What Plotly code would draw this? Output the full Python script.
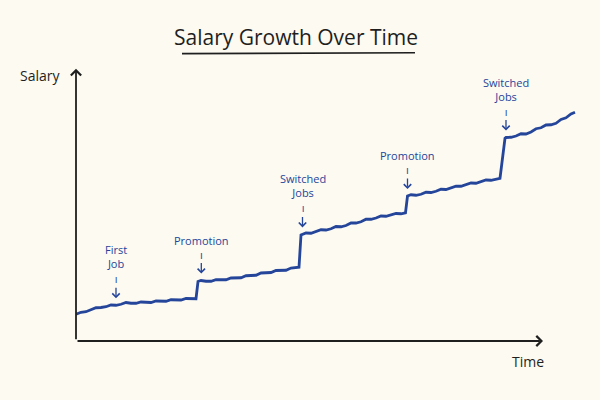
import numpy as np
import plotly.graph_objects as go

# ---- data ----
time_vals = [0, 1, 2, 3, 4, 5, 6, 7, 8, 9, 10, 11, 12, 13, 14, 15, 16, 17, 18, 19, 20, 21, 22, 23, 24,
             24.4, 25, 26, 27, 28, 29, 30, 31, 32, 33, 34, 35, 36, 37, 38, 39, 40, 41, 42, 43, 44, 44.6,
             45.0, 46, 47, 48, 49, 50, 51, 52, 53, 54, 55, 56, 57, 58, 59, 60, 61, 62, 63, 64, 65, 65.9,
             66.3, 67, 68, 69, 70, 71, 72, 73, 74, 75, 76, 77, 78, 79, 80, 81, 82, 83, 84, 84.8,
             85.8, 86, 87, 88, 89, 90, 91, 92, 93, 94, 95, 96, 97, 98, 99, 99.8]
salary_vals = [10.7, 11.5, 11.7, 12.4, 13.3, 13.4, 13.7, 14.4, 14.3, 14.7, 15.4, 15.1, 15.1, 15.6, 15.6,
               15.4, 16.0, 16.0, 15.9, 16.5, 16.5, 16.4, 17.0, 16.9, 16.9,
               23.8, 24.2, 23.9, 23.9, 24.5, 24.6, 24.5, 25.2, 25.3, 25.3, 26.1, 26.3, 26.3, 27.2, 27.3,
               27.4, 28.2, 28.3, 28.3, 29.2, 29.3, 29.5,
               42.4, 43.2, 43.1, 43.7, 44.5, 44.4, 44.9, 45.8, 45.7, 46.2, 47.2, 47.2, 47.7, 48.7, 48.7,
               49.2, 50.0, 49.9, 50.3, 51.0, 50.9, 51.3,
               58.0, 58.5, 58.3, 58.7, 59.5, 59.4, 59.9, 60.7, 60.6, 61.1, 61.9, 61.9, 62.4, 63.2, 63.1,
               63.6, 64.4, 64.3, 64.7, 65.1,
               81.1, 81.4, 81.5, 82.0, 82.9, 82.8, 83.6, 84.9, 85.3, 86.4, 86.5, 87.1, 88.6, 89.3, 90.8, 91.5]

event_labels = ["First<br>Job", "Promotion", "Switched<br>Jobs", "Promotion", "Switched<br>Jobs"]
event_times = [8.0, 25.06, 45.3, 66.3, 86.0]

title_text = "Salary Growth Over Time"
y_label = "Salary"
x_label = "Time"

# ---- styling ----
BG = "#fcfaf1"
INK = "#1f1f1f"
BLUE = "#25459a"
FONT = "Open Sans, DejaVu Sans, sans-serif"

fig = go.Figure()
fig.add_trace(go.Scatter(
    x=time_vals, y=salary_vals, mode="lines",
    line=dict(color=BLUE, width=2.8),
    hoverinfo="skip", showlegend=False,
))

annotations = []
# axes arrows (paper coordinates)
annotations.append(dict(x=0.934, y=0, xref="paper", yref="paper", ax=-467, ay=0,
                        text="", showarrow=True,
                        arrowhead=4, arrowsize=1.1, arrowwidth=1.8, arrowcolor=INK))
annotations.append(dict(x=0, y=0.99, xref="paper", yref="paper", ax=0, ay=272,
                        text="", showarrow=True,
                        arrowhead=4, arrowsize=1.1, arrowwidth=1.8, arrowcolor=INK))

# event annotations: arrow tip just above the line
for lab, t in zip(event_labels, event_times):
    y_line = float(np.interp(t, time_vals, salary_vals))
    annotations.append(dict(x=t, y=y_line, xref="x", yref="y", text="", showarrow=True,
                            ax=0, ay=-19, standoff=7, arrowhead=4, arrowsize=1.1,
                            arrowwidth=1.3, arrowcolor=BLUE))
    annotations.append(dict(x=t, y=y_line, xref="x", yref="y",
                            text=lab + "<br>ı", showarrow=False,
                            xanchor="center", yanchor="bottom", yshift=17,
                            font=dict(family=FONT, size=11, color=BLUE)))

annotations.append(dict(x=0.44, y=1.105, xref="paper", yref="paper", yanchor="middle",
                        xanchor="center", text=title_text, showarrow=False,
                        font=dict(family=FONT, size=21, color=INK)))
annotations.append(dict(x=-0.072, y=0.967, xref="paper", yref="paper",
                        xanchor="center", yanchor="middle",
                        text=y_label, showarrow=False,
                        font=dict(family=FONT, size=14, color=INK)))
annotations.append(dict(x=0.904, y=-0.076, xref="paper", yref="paper",
                        xanchor="center", yanchor="middle",
                        text=x_label, showarrow=False,
                        font=dict(family=FONT, size=14, color=INK)))

fig.update_layout(
    width=600, height=400,
    margin=dict(l=76, r=24, t=66, b=59),
    paper_bgcolor=BG, plot_bgcolor=BG,
    xaxis=dict(range=[0, 100], visible=False, fixedrange=True),
    yaxis=dict(range=[0, 110], visible=False, fixedrange=True),
    annotations=annotations,
    shapes=[dict(type="line", xref="paper", yref="paper", x0=0.212, x1=0.678,
                 y0=1.045, y1=1.048, line=dict(color=INK, width=1.6))],
    showlegend=False,
)

fig.write_html(
    "out.html",
    config={"displayModeBar": False},
    post_script="document.body.style.margin='0';document.body.style.background='#fcfaf1';",
)
